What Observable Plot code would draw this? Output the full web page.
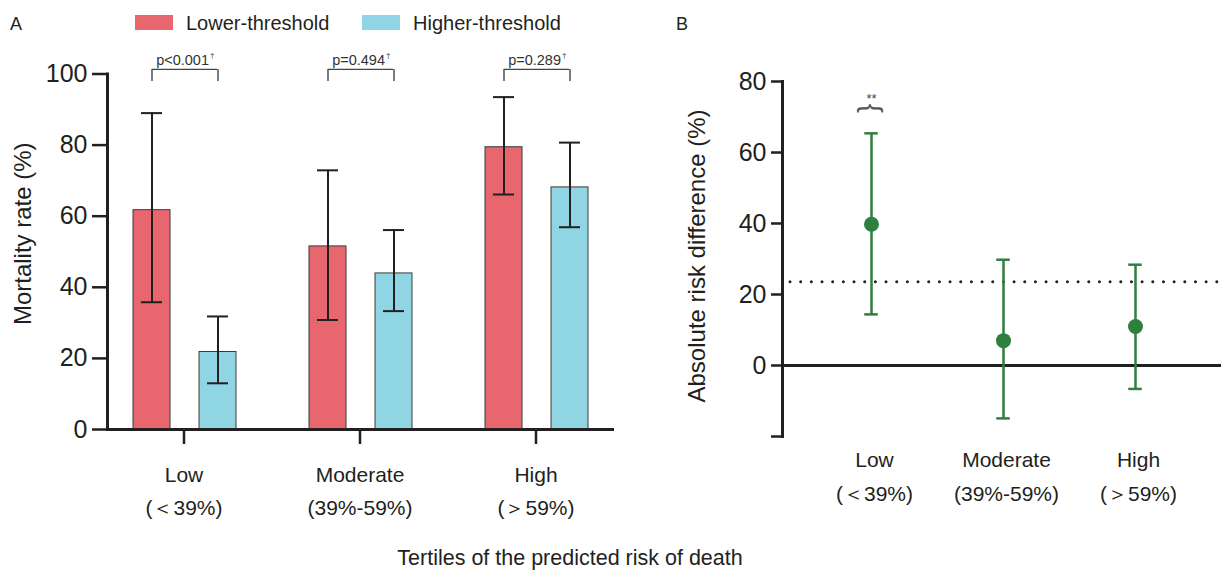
<!DOCTYPE html>
<html><head><meta charset="utf-8">
<script src="https://cdn.jsdelivr.net/npm/d3@7"></script>
<script src="https://cdn.jsdelivr.net/npm/@observablehq/plot@0.6"></script>
<style>
body{margin:0;background:#fff;}
#fig{position:relative;width:1221px;height:570px;overflow:hidden;font-family:"Liberation Sans",Arial,sans-serif;color:#231f20;background:#fff;}
.abs{position:absolute;white-space:nowrap;}
.sw{position:absolute;width:38px;height:15px;}
</style></head><body><div id="fig"></div>
<script>
// ---- data ----
const categories = ["Low", "Moderate", "High"];
const rangeLabels = ["(＜39%)", "(39%-59%)", "(＞59%)"];
const seriesNames = ["Lower-threshold", "Higher-threshold"];
const lowerRate = [61.7, 51.5, 79.4];
const lowerCILow = [35.8, 30.8, 66.1];
const lowerCIHigh = [89.0, 72.9, 93.5];
const higherRate = [21.8, 43.9, 68.1];
const higherCILow = [13.0, 33.3, 56.9];
const higherCIHigh = [31.8, 56.1, 80.7];
const pValues = ["p<0.001", "p=0.494", "p=0.289"];
const ardEstimate = [39.8, 7.0, 11.0];
const ardCILow = [14.4, -14.9, -6.6];
const ardCIHigh = [65.4, 29.8, 28.4];
const significance = ["**", "", ""];
const ardThreshold = 23.6;
const yTicksA = [0, 20, 40, 60, 80, 100];
const yTicksB = [-20, 0, 20, 40, 60, 80];

// ---- styles ----
const ink = "#231f20", red = "#e8676f", blue = "#8fd5e3", green = "#2f7f3e";
const font = "Liberation Sans, Arial, sans-serif";
const fig = document.getElementById("fig");

const rowsA = categories.map((c, i) => ({
  cat: c, range: rangeLabels[i],
  lo: lowerRate[i], loL: lowerCILow[i], loH: lowerCIHigh[i],
  hi: higherRate[i], hiL: higherCILow[i], hiH: higherCIHigh[i],
  p: pValues[i]
}));
const rowsB = categories.map((c, i) => ({
  cat: c, range: rangeLabels[i], est: ardEstimate[i], lo: ardCILow[i], hi: ardCIHigh[i], sig: significance[i]
}));

// band geometry for panel A
const bw = 130, offL = -32, offH = 34, barW = 38, capA = 22;
const inset = (off, w) => ({insetLeft: bw / 2 + off - w / 2, insetRight: bw / 2 - off - w / 2});
const bracketTop = 101.3, bracketFoot = 97.9;

const chartA = Plot.plot({
  width: 640, height: 540,
  marginLeft: 107, marginRight: 28, marginTop: 73.5, marginBottom: 111,
  style: {fontFamily: font, color: ink, background: "transparent"},
  x: {domain: categories, paddingInner: 0.265, paddingOuter: 0.06, label: null},
  y: {domain: [0, 100], label: null},
  marks: [
    Plot.barY(rowsA, {x: "cat", y: "lo", fill: red, stroke: "#3a3a3a", strokeWidth: 1, ...inset(offL, barW)}),
    Plot.barY(rowsA, {x: "cat", y: "hi", fill: blue, stroke: "#3a3a3a", strokeWidth: 1, ...inset(offH, barW)}),
    Plot.ruleX(rowsA, {x: "cat", y1: "loL", y2: "loH", dx: offL, stroke: ink, strokeWidth: 2}),
    Plot.tickY(rowsA, {x: "cat", y: "loL", stroke: ink, strokeWidth: 2, ...inset(offL, capA)}),
    Plot.tickY(rowsA, {x: "cat", y: "loH", stroke: ink, strokeWidth: 2, ...inset(offL, capA)}),
    Plot.ruleX(rowsA, {x: "cat", y1: "hiL", y2: "hiH", dx: offH, stroke: ink, strokeWidth: 2}),
    Plot.tickY(rowsA, {x: "cat", y: "hiL", stroke: ink, strokeWidth: 2, ...inset(offH, capA)}),
    Plot.tickY(rowsA, {x: "cat", y: "hiH", stroke: ink, strokeWidth: 2, ...inset(offH, capA)}),
    // significance brackets
    Plot.tickY(rowsA, {x: "cat", y: () => bracketTop, stroke: "#444", strokeWidth: 1.4, insetLeft: bw / 2 + offL, insetRight: bw / 2 - offH}),
    Plot.ruleX(rowsA, {x: "cat", y1: () => bracketFoot, y2: () => bracketTop, dx: offL, stroke: "#444", strokeWidth: 1.4}),
    Plot.ruleX(rowsA, {x: "cat", y1: () => bracketFoot, y2: () => bracketTop, dx: offH, stroke: "#444", strokeWidth: 1.4}),
    Plot.text(rowsA, {x: "cat", y: () => bracketTop, text: "p", dx: 25, dy: -4, textAnchor: "end", lineAnchor: "bottom", fontSize: 14.5, fill: "#333"}),
    Plot.text(rowsA, {x: "cat", y: () => bracketTop, text: () => "†", dx: 26, dy: -11, textAnchor: "start", lineAnchor: "bottom", fontSize: 8, fill: "#333"}),
    // axes
    Plot.frame({anchor: "left", stroke: ink, strokeWidth: 3}),
    Plot.frame({anchor: "bottom", stroke: ink, strokeWidth: 3}),
    Plot.axisY({ticks: yTicksA, tickSize: 15, tickPadding: 5, fontSize: 25, stroke: ink, fill: ink, strokeWidth: 2.5, label: null}),
    Plot.axisX({tickSize: 15, tickFormat: () => "", stroke: ink, strokeWidth: 2.5, label: null}),
    Plot.text(rowsA, {x: "cat", frameAnchor: "bottom", dy: 29, text: d => d.cat + "\n" + d.range, lineAnchor: "top", lineHeight: 1.57, fontSize: 21, fill: ink}),
    Plot.text(["Mortality rate (%)"], {frameAnchor: "left", rotate: -90, dx: -77, dy: -18, textAnchor: "middle", lineAnchor: "bottom", fontSize: 24, fill: ink})
  ]
});

const capB = 14, bwB = 66.5;
const chartB = Plot.plot({
  width: 564, height: 540,
  marginLeft: 122, marginRight: 0, marginTop: 81, marginBottom: 104,
  style: {fontFamily: font, color: ink, background: "transparent"},
  x: {domain: categories, paddingInner: 0.5, paddingOuter: 0.4117, axis: null},
  y: {domain: [-20, 80], label: null},
  marks: [
    Plot.ruleY([ardThreshold], {stroke: ink, strokeWidth: 3, strokeDasharray: "0 10.67", strokeLinecap: "round", insetLeft: 8}),
    Plot.ruleY([0], {stroke: ink, strokeWidth: 3}),
    Plot.ruleX(rowsB, {x: "cat", y1: "lo", y2: "hi", stroke: green, strokeWidth: 2.5}),
    Plot.tickY(rowsB, {x: "cat", y: "lo", stroke: green, strokeWidth: 2.5, insetLeft: (bwB - capB) / 2, insetRight: (bwB - capB) / 2}),
    Plot.tickY(rowsB, {x: "cat", y: "hi", stroke: green, strokeWidth: 2.5, insetLeft: (bwB - capB) / 2, insetRight: (bwB - capB) / 2}),
    Plot.dot(rowsB, {x: "cat", y: "est", r: 7.5, fill: green}),
    Plot.frame({anchor: "left", stroke: ink, strokeWidth: 3}),
    Plot.axisY({ticks: yTicksB, tickFormat: d => d === -20 ? "" : d, tickSize: 11, tickPadding: 5, fontSize: 25, stroke: ink, fill: ink, strokeWidth: 2.5, label: null}),
    Plot.text(rowsB, {x: "cat", frameAnchor: "bottom", dy: 6, dx: 3, text: d => d.cat + "\n" + d.range, lineAnchor: "top", lineHeight: 1.62, fontSize: 21, fill: ink}),
    Plot.text(rowsB.filter(d => d.sig), {x: "cat", y: () => 75.2, text: "sig", fontSize: 13, fill: "#444"}),
    Plot.text(rowsB.filter(d => d.sig), {x: "cat", y: () => 72.4, text: () => "{", rotate: 90, fontSize: 28, fill: "#555", textAnchor: "middle", lineAnchor: "middle"}),
    Plot.text(["Absolute risk difference (%)"], {frameAnchor: "left", rotate: -90, dx: -78, dy: -3, textAnchor: "middle", lineAnchor: "bottom", fontSize: 24, fill: ink})
  ]
});

chartA.style.position = "absolute"; chartA.style.left = "0px"; chartA.style.top = "0px";
chartB.style.position = "absolute"; chartB.style.left = "660px"; chartB.style.top = "0px";
fig.appendChild(chartA);
fig.appendChild(chartB);

// panel letters, legend, shared title (HTML)
function addText(txt, left, top, size, extra) {
  const d = document.createElement("div");
  d.className = "abs";
  d.textContent = txt;
  d.style.left = left + "px"; d.style.top = top + "px";
  d.style.fontSize = size + "px"; d.style.lineHeight = size + "px";
  if (extra) Object.assign(d.style, extra);
  fig.appendChild(d);
  return d;
}
addText("A", 10, 15, 18);
addText("B", 676, 15, 18);
const legendColors = [red, blue];
const legendX = [135, 362];
seriesNames.forEach((name, i) => {
  const s = document.createElement("div");
  s.className = "sw";
  s.style.left = legendX[i] + "px"; s.style.top = "15px"; s.style.background = legendColors[i];
  fig.appendChild(s);
  addText(name, legendX[i] + 51, 13, 20);
});
addText("Tertiles of the predicted risk of death", 570, 548, 21.5, {transform: "translateX(-50%)"});
</script>
</body></html>
